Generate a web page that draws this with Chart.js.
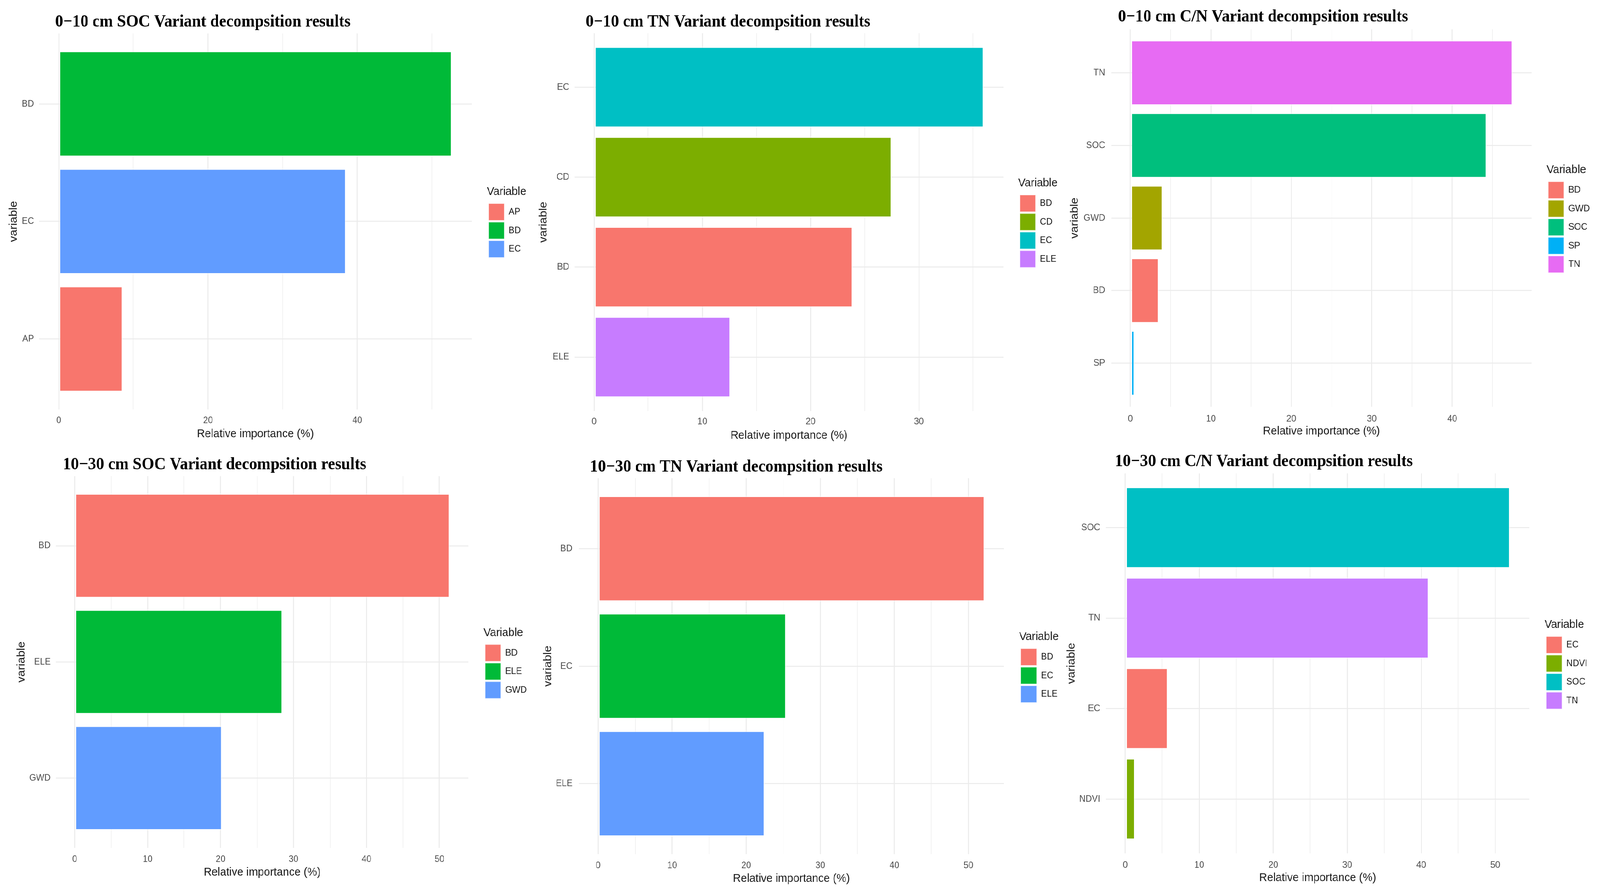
<!DOCTYPE html>
<html>
<head>
<meta charset="utf-8">
<script src="https://cdn.jsdelivr.net/npm/chart.js@4.4.1/dist/chart.umd.min.js"></script>
<style>
html,body{margin:0;padding:0;background:#ffffff;overflow:hidden;}
#fig{position:absolute;left:0;top:0;width:4379px;height:2288px;transform-origin:0 0;background:#ffffff;}
#fig canvas{position:absolute;}
</style>
</head>
<body>
<div id="fig">
<canvas id="p1"></canvas>
<canvas id="p2"></canvas>
<canvas id="p3"></canvas>
<canvas id="p4"></canvas>
<canvas id="p5"></canvas>
<canvas id="p6"></canvas>
</div>
<script>
// ---------------- DATA ----------------
// 0-10 cm SOC
const soc010Title = '0\u221210 cm SOC Variant decompsition results';
const soc010Cats = ['BD', 'EC', 'AP'];
const soc010Vals = [52.7, 38.5, 8.6];
const soc010Legend = ['AP', 'BD', 'EC'];
const soc010Colors = ['#F8766D', '#00BA38', '#619CFF'];
const soc010Major = [0, 20, 40];
const soc010Minor = [10, 30, 50];

// 0-10 cm TN
const tn010Title = '0\u221210 cm TN Variant decompsition results';
const tn010Cats = ['EC', 'CD', 'BD', 'ELE'];
const tn010Vals = [36.0, 27.5, 23.9, 12.6];
const tn010Legend = ['BD', 'CD', 'EC', 'ELE'];
const tn010Colors = ['#F8766D', '#7CAE00', '#00BFC4', '#C77CFF'];
const tn010Major = [0, 10, 20, 30];
const tn010Minor = [5, 15, 25, 35];

// 0-10 cm C/N
const cn010Title = '0\u221210 cm C/N Variant decompsition results';
const cn010Cats = ['TN', 'SOC', 'GWD', 'BD', 'SP'];
const cn010Vals = [47.5, 44.3, 4.0, 3.55, 0.5];
const cn010Legend = ['BD', 'GWD', 'SOC', 'SP', 'TN'];
const cn010Colors = ['#F8766D', '#A3A500', '#00BF7D', '#00B0F6', '#E76BF3'];
const cn010Major = [0, 10, 20, 30, 40];
const cn010Minor = [5, 15, 25, 35, 45];

// 10-30 cm SOC
const soc1030Title = '10\u221230 cm SOC Variant decompsition results';
const soc1030Cats = ['BD', 'ELE', 'GWD'];
const soc1030Vals = [51.4, 28.5, 20.2];
const soc1030Legend = ['BD', 'ELE', 'GWD'];
const soc1030Colors = ['#F8766D', '#00BA38', '#619CFF'];
const soc1030Major = [0, 10, 20, 30, 40, 50];
const soc1030Minor = [5, 15, 25, 35, 45];

// 10-30 cm TN
const tn1030Title = '10\u221230 cm TN Variant decompsition results';
const tn1030Cats = ['BD', 'EC', 'ELE'];
const tn1030Vals = [52.2, 25.4, 22.5];
const tn1030Legend = ['BD', 'EC', 'ELE'];
const tn1030Colors = ['#F8766D', '#00BA38', '#619CFF'];
const tn1030Major = [0, 10, 20, 30, 40, 50];
const tn1030Minor = [5, 15, 25, 35, 45];

// 10-30 cm C/N
const cn1030Title = '10\u221230 cm C/N Variant decompsition results';
const cn1030Cats = ['SOC', 'TN', 'EC', 'NDVI'];
const cn1030Vals = [52.0, 41.0, 5.75, 1.35];
const cn1030Legend = ['EC', 'NDVI', 'SOC', 'TN'];
const cn1030Colors = ['#F8766D', '#7CAE00', '#00BFC4', '#C77CFF'];
const cn1030Major = [0, 10, 20, 30, 40, 50];
const cn1030Minor = [5, 15, 25, 35, 45];

const xAxisLabel = 'Relative importance (%)';
const yAxisLabel = 'variable';
const legendTitle = 'Variable';

// ---------------- LAYOUT (figure pixels, 4379 x 2288) ----------------
const FIG_W = 4379, FIG_H = 2288;
const layouts = {
  p1: {L: 20,   T: 0,    W: 1440, CL: 107,    CR: 1291,   CT: 85.5,   CB: 1048,   TY: 57,   TX: 151,    XTY: 1076.6, XTT: 1111,   YR: 93,     KL: 1337,   LTY: 491},
  p2: {L: 1470, T: 0,    W: 1445, CL: 1572.5, CR: 2746,   CT: 85,     CB: 1052,   TY: 57,   TX: 1603,   XTY: 1079.6, XTT: 1115,   YR: 1558,   KL: 2791,   LTY: 469},
  p3: {L: 2924, T: 0,    W: 1455, CL: 3041.5, CR: 4192,   CT: 75,     CB: 1041,   TY: 44,   TX: 3060,   XTY: 1072,   XTT: 1104,   YR: 3024.5, KL: 4237.5, LTY: 435},
  p4: {L: 41,   T: 1140, W: 1419, CL: 153,    CR: 1282,   CT: 1218.5, CB: 2169.7, TY: 1190, TX: 172,    XTY: 2199,   XTT: 2232.6, YR: 138.7,  KL: 1328,   LTY: 1619.6},
  p5: {L: 1482, T: 1140, W: 1433, CL: 1584,   CR: 2748,   CT: 1223.8, CB: 2186,   TY: 1196, TX: 1614.5, XTY: 2215.6, XTT: 2249,   YR: 1566.7, KL: 2794,   LTY: 1630},
  p6: {L: 2915, T: 1140, W: 1464, CL: 3027,   CR: 4185.6, CT: 1211.4, CB: 2183.8, TY: 1182, TX: 3051,   XTY: 2214,   XTT: 2247.4, YR: 3011,   KL: 4231.8, LTY: 1599}
};

// fit the 4379 x 2288 figure into whatever viewport we actually get
(function fitFigure() {
  const vw = window.innerWidth || FIG_W, vh = window.innerHeight || FIG_H;
  const kx = vw / FIG_W, ky = vh / FIG_H;
  document.body.style.width = vw + 'px';
  document.body.style.height = vh + 'px';
  if (Math.abs(kx - 1) > 0.001 || Math.abs(ky - 1) > 0.001) {
    document.getElementById('fig').style.transform = 'scale(' + kx + ',' + ky + ')';
  }
})();

Chart.defaults.font.family = "'Liberation Sans', Arial, sans-serif";

const TITLE_SIZE = 44, TICK_SIZE = 24, AXT_SIZE = 30, LEG_SIZE = 24, LEGT_SIZE = 30;
const KEY = 43, KEY_PAD = 4.5;
const GRID = '#EBEBEB';
const EDGE = 'rgba(255,255,255,0.45)';

// plugin that pins the chart title and legend where the reference has them
const placeBoxes = {
  id: 'placeBoxes',
  beforeInit(chart, args, opts) {
    const lg = chart.legend;
    if (lg) {
      const fit0 = lg.fit;
      lg.fit = function () {
        fit0.call(this);
        if (this.options.display) this.width = opts.legendWidth;
      };
    }
  },
  afterLayout(chart, args, opts) {
    const t = chart.titleBlock;
    if (t) {
      const w = t.right - t.left;
      t.left = opts.titleX; t.right = opts.titleX + w;
    }
    const lg = chart.legend;
    if (lg) {
      const h = lg.bottom - lg.top;
      lg.left = opts.legendX; lg.right = lg.left + lg.width;
      lg.top = opts.legendY; lg.bottom = lg.top + h + 2000;
    }
  }
};

function makePanel(id, title, cats, vals, legendNames, colors, major, minor) {
  const g = layouts[id];
  const canvas = document.getElementById(id);
  const H = Math.round(g.XTT + 18 - g.T);
  canvas.width = g.W; canvas.height = H;
  canvas.style.left = g.L + 'px'; canvas.style.top = g.T + 'px';
  canvas.style.width = g.W + 'px'; canvas.style.height = H + 'px';

  const yAxisWidth = g.CL - g.L;
  const xAxisHeight = g.T + H - g.CB;
  const legendWidth = g.L + g.W - g.CR;
  const titlePadTop = g.TY - g.T - TITLE_SIZE * 0.6;
  const titlePadBottom = (g.CT - g.T) - titlePadTop - TITLE_SIZE * 1.2;
  const xTickPad = g.XTY - g.CB - TICK_SIZE * 0.6;
  const yTickPad = g.CL - g.YR;

  const vmax = Math.max(...vals);
  const allTicks = major.concat(minor).sort((a, b) => a - b);
  const n = cats.length;
  const colorOf = c => colors[legendNames.indexOf(c)];

  new Chart(canvas, {
    type: 'bar',
    data: {
      datasets: [{
        data: cats.map((c, i) => ({x: vals[i], y: i + 1})),
        backgroundColor: cats.map(colorOf),
        borderColor: EDGE,
        borderWidth: 3,
        borderSkipped: false,
        barPercentage: 0.9,
        categoryPercentage: 1.0
      }]
    },
    options: {
      indexAxis: 'y',
      responsive: false,
      animation: false,
      events: [],
      layout: {padding: 0, autoPadding: false},
      scales: {
        x: {
          type: 'linear',
          offset: false,
          min: -0.05 * vmax,
          max: 1.05 * vmax,
          afterBuildTicks: s => { s.ticks = allTicks.map(v => ({value: v})); },
          afterFit: s => { s.height = xAxisHeight; },
          ticks: {
            autoSkip: false, maxRotation: 0, minRotation: 0,
            padding: xTickPad, color: '#4D4D4D',
            font: {size: TICK_SIZE},
            callback: v => (major.includes(v) ? String(v) : '')
          },
          grid: {
            offset: false,
            color: GRID,
            lineWidth: ctx => (ctx.tick && major.includes(ctx.tick.value) ? 2.6 : 1.3),
            drawTicks: false
          },
          border: {display: false},
          title: {display: true, text: xAxisLabel, color: '#1a1a1a', font: {size: AXT_SIZE}, padding: 0}
        },
        y: {
          type: 'linear',
          offset: false,
          reverse: true,
          min: 0.4,
          max: n + 0.6,
          afterBuildTicks: s => { s.ticks = cats.map((c, i) => ({value: i + 1})); },
          afterFit: s => { s.width = yAxisWidth; },
          ticks: {
            autoSkip: false, padding: yTickPad, color: '#4D4D4D',
            font: {size: TICK_SIZE},
            callback: v => cats[Math.round(v) - 1]
          },
          grid: {offset: false, color: GRID, lineWidth: 2.6, drawTicks: false},
          border: {display: false},
          title: {display: true, text: yAxisLabel, color: '#1a1a1a', font: {size: AXT_SIZE}, padding: 0}
        }
      },
      plugins: {
        tooltip: {enabled: false},
        title: {
          display: true, text: title, align: 'start', color: '#000000',
          font: {family: "'Liberation Serif', 'Times New Roman', serif", size: TITLE_SIZE, weight: 'bold'},
          padding: {top: titlePadTop, bottom: titlePadBottom}
        },
        legend: {
          display: true, position: 'right', align: 'start',
          title: {display: true, text: legendTitle, color: '#1a1a1a', position: 'start',
                  font: {size: LEGT_SIZE}, padding: {top: 0, bottom: 4.5}},
          labels: {
            boxWidth: KEY, boxHeight: KEY, padding: KEY_PAD, color: '#1a1a1a',
            font: {size: LEG_SIZE},
            generateLabels: () => legendNames.map((name, i) => ({
              text: name, fillStyle: colors[i], strokeStyle: EDGE, lineWidth: 2,
              hidden: false, datasetIndex: 0
            }))
          }
        },
        placeBoxes: {
          titleX: g.TX - g.L,
          legendX: g.KL - KEY_PAD - g.L,
          legendY: g.LTY - LEGT_SIZE / 2 - g.T,
          legendWidth: legendWidth
        }
      }
    },
    plugins: [placeBoxes]
  });
}

makePanel('p1', soc010Title, soc010Cats, soc010Vals, soc010Legend, soc010Colors, soc010Major, soc010Minor);
makePanel('p2', tn010Title, tn010Cats, tn010Vals, tn010Legend, tn010Colors, tn010Major, tn010Minor);
makePanel('p3', cn010Title, cn010Cats, cn010Vals, cn010Legend, cn010Colors, cn010Major, cn010Minor);
makePanel('p4', soc1030Title, soc1030Cats, soc1030Vals, soc1030Legend, soc1030Colors, soc1030Major, soc1030Minor);
makePanel('p5', tn1030Title, tn1030Cats, tn1030Vals, tn1030Legend, tn1030Colors, tn1030Major, tn1030Minor);
makePanel('p6', cn1030Title, cn1030Cats, cn1030Vals, cn1030Legend, cn1030Colors, cn1030Major, cn1030Minor);
</script>
</body>
</html>
